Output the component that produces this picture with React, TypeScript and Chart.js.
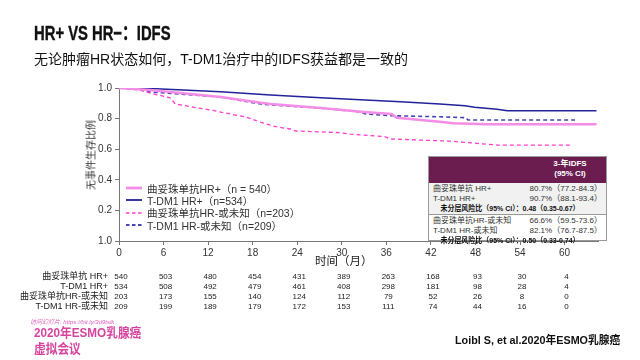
import React, { useEffect, useRef } from "react";
import { Chart, registerables } from "chart.js";

Chart.register(...registerables);

// ---- data ----
const xTicks = [0, 6, 12, 18, 24, 30, 36, 42, 48, 54, 60];
const yTicks = [0, 0.2, 0.4, 0.6, 0.8, 1.0];
const yTickLabels = ["1.0", "0.2", "0.4", "0.6", "0.8", "1.0"];

const seriesNames = [
  "曲妥珠单抗HR+（n = 540）",
  "T-DM1 HR+（n=534）",
  "曲妥珠单抗HR-或未知（n=203）",
  "T-DM1 HR-或未知（n=209）",
];

const tzHrPosMonths = [0, 4.2, 8.3, 13.7, 19.1, 20.4, 27.2, 32.6, 36.7, 37.4, 43.2, 45.0, 49.6, 64.3];
const tzHrPosSurv = [1.0, 0.987, 0.967, 0.941, 0.904, 0.895, 0.869, 0.845, 0.83, 0.806, 0.78, 0.769, 0.763, 0.763];

const tdm1HrPosMonths = [0, 5, 13.7, 20.4, 27.8, 37.9, 43.2, 46.6, 47.9, 50.9, 52.3, 64.3];
const tdm1HrPosSurv = [1.0, 0.995, 0.976, 0.954, 0.935, 0.91, 0.895, 0.884, 0.874, 0.861, 0.852, 0.852];

const tzHrNegMonths = [0, 2.8, 4.2, 6.9, 7.6, 12.3, 17.1, 19.1, 21.1, 23.1, 23.8, 29.8, 31.1, 35.8, 36.5, 44.8, 50.9, 60.9];
const tzHrNegSurv = [1.0, 0.987, 0.967, 0.935, 0.895, 0.856, 0.81, 0.776, 0.747, 0.732, 0.719, 0.708, 0.699, 0.682, 0.667, 0.652, 0.627, 0.627];

const tdm1HrNegMonths = [0, 2.5, 4.2, 13.7, 19.1, 28.5, 32.5, 33.2, 36.6, 43.2, 46.7, 47.0, 61.4];
const tdm1HrNegSurv = [1.0, 0.99, 0.974, 0.941, 0.895, 0.863, 0.843, 0.83, 0.819, 0.812, 0.806, 0.791, 0.791];

const riskLabels = ["曲妥珠单抗 HR+", "T-DM1 HR+", "曲妥珠单抗HR-或未知", "T-DM1 HR-或未知"];
const tzHrPosRisk = [540, 503, 480, 454, 431, 389, 263, 168, 93, 30, 4];
const tdm1HrPosRisk = [534, 508, 492, 479, 461, 408, 298, 181, 98, 28, 4];
const tzHrNegRisk = [203, 173, 155, 140, 124, 112, 79, 52, 26, 8, 0];
const tdm1HrNegRisk = [209, 199, 189, 179, 172, 153, 111, 74, 44, 16, 0];

const tableHeader = ["3-年IDFS", "(95% CI)"];
const tableGroup1 = [
  ["曲妥珠单抗 HR+", "80.7%（77.2-84.3）"],
  ["T-DM1 HR+", "90.7%（88.1-93.4）"],
];
const tableHr1 = "未分层风险比（95% CI）：0.48（0.35-0.67）";
const tableGroup2 = [
  ["曲妥珠单抗HR-或未知", "66.6%（59.5-73.6）"],
  ["T-DM1 HR-或未知", "82.1%（76.7-87.5）"],
];
const tableHr2 = "未分层风险比（95% CI）：0.50（0.33-0.74）";

const colors = ["#f48de6", "#22229a", "#ff3ccf", "#4545b5"];
const dashes: number[][] = [[], [], [4, 3], [4, 3]];
const widths = [2.5, 1.5, 1.3, 1.6];

const FONT = '"Liberation Sans", "Noto Sans CJK SC", sans-serif';

const toPts = (xs: number[], ys: number[]) => xs.map((x, i) => ({ x, y: ys[i] }));

export default function App() {
  const ref = useRef<HTMLCanvasElement | null>(null);

  useEffect(() => {
    if (!ref.current) return;
    const allX = [tzHrPosMonths, tdm1HrPosMonths, tzHrNegMonths, tdm1HrNegMonths];
    const allY = [tzHrPosSurv, tdm1HrPosSurv, tzHrNegSurv, tdm1HrNegSurv];
    const risks = [tzHrPosRisk, tdm1HrPosRisk, tzHrNegRisk, tdm1HrNegRisk];

    const extras = {
      id: "extras",
      afterDraw(chart: any) {
        const ctx = chart.ctx;
        const xs = chart.scales.x;
        ctx.save();
        ctx.fillStyle = "#222";
        ctx.font = `11.5px ${FONT}`;
        ctx.textAlign = "center";
        ctx.textBaseline = "middle";
        ctx.fillText("时间（月）", xs.getPixelForValue(30) + 2, 262);
        riskLabels.forEach((lab, r) => {
          const y = 277 + r * 10;
          ctx.font = `9px ${FONT}`;
          ctx.textAlign = "right";
          ctx.fillStyle = "#222";
          ctx.fillText(lab, 108, y);
          ctx.font = `8px ${FONT}`;
          ctx.textAlign = "center";
          risks[r].forEach((v, i) => {
            ctx.fillText(String(v), xs.getPixelForValue(xTicks[i]) + 2, y);
          });
        });
        ctx.restore();
      },
    };

    const chart = new Chart(ref.current, {
      type: "line",
      data: {
        datasets: seriesNames.map((name, i) => ({
          label: name,
          data: toPts(allX[i], allY[i]),
          borderColor: colors[i],
          borderWidth: widths[i],
          borderDash: dashes[i],
          pointRadius: 0,
          fill: false,
          tension: 0,
        })),
      },
      options: {
        responsive: false,
        animation: false,
        events: [],
        layout: { padding: { top: 88, right: 42, left: 0, bottom: 0 } },
        plugins: { legend: { display: false }, tooltip: { enabled: false } },
        scales: {
          x: {
            type: "linear",
            min: 0,
            max: 64.5,
            afterFit: (s: any) => {
              s.height = 119;
            },
            afterBuildTicks: (s: any) => {
              s.ticks = xTicks.map((v) => ({ value: v }));
            },
            border: { color: "#777", width: 1 },
            grid: { drawOnChartArea: false, tickLength: 4, color: "#777" },
            ticks: { color: "#333", font: { size: 10, family: FONT }, padding: 2, maxRotation: 0 },
          },
          y: {
            min: 0,
            max: 1,
            afterFit: (s: any) => {
              s.width = 119;
            },
            afterBuildTicks: (s: any) => {
              s.ticks = yTicks.map((v) => ({ value: v }));
            },
            border: { color: "#777", width: 1 },
            grid: { drawOnChartArea: false, tickLength: 4, color: "#777" },
            ticks: {
              color: "#333",
              font: { size: 10, family: FONT },
              padding: 3,
              callback: (v: any) => {
                const idx = yTicks.findIndex((t) => Math.abs(t - Number(v)) < 1e-6);
                return idx >= 0 ? yTickLabels[idx] : "";
              },
            },
          },
        },
      },
      plugins: [extras],
    } as any);
    return () => chart.destroy();
  }, []);

  const abs = (s: React.CSSProperties): React.CSSProperties => ({ position: "absolute", whiteSpace: "nowrap", ...s });

  const hrStyle: React.CSSProperties = {
    height: 10,
    lineHeight: "10px",
    fontWeight: "bold",
    paddingLeft: 8,
    color: "#111",
    fontSize: 7.5,
    transform: "scaleX(0.93)",
    transformOrigin: "left",
  };

  return (
    <div style={{ position: "absolute", left: 0, top: 0, width: 640, height: 360, background: "#fff", overflow: "hidden", fontFamily: FONT }}>
      <canvas ref={ref} width={640} height={360} style={{ position: "absolute", left: 0, top: 0, display: "block" }} />
      <div style={abs({ left: 34, top: 17, fontSize: 20, fontWeight: "bold", color: "#111", transform: "scaleX(0.74)", transformOrigin: "left", WebkitTextStroke: "0.4px #111" })}>
        HR+ VS HR−：IDFS
      </div>
      <div style={abs({ left: 34, top: 48, fontSize: 14, color: "#111" })}>
        无论肿瘤HR状态如何，T-DM1治疗中的IDFS获益都是一致的
      </div>
      <div style={abs({ left: 90, top: 155, fontSize: 10, color: "#333", transform: "translate(-50%,-50%) rotate(-90deg)" })}>
        无事件生存比例
      </div>
      {seriesNames.map((n, i) => (
        <div key={n} style={abs({ left: 126, top: 182 + i * 12.4, height: 12, display: "flex", alignItems: "center", fontSize: 10.5, color: "#333" })}>
          <svg width={18} height={6} style={{ marginRight: 3 }}>
            <line x1={0} y1={3} x2={16} y2={3} stroke={colors[i]} strokeWidth={widths[i] + 0.3} strokeDasharray={dashes[i].length ? "3.5 2.5" : undefined} />
          </svg>
          {n}
        </div>
      ))}
      <div style={abs({ left: 428, top: 156, width: 179, height: 85, border: "1px solid #999", background: "#fff", boxSizing: "border-box", fontSize: 8, color: "#333" })}>
        <div style={{ background: "#6b1d4f", height: 26, color: "#fff", fontWeight: "bold", position: "relative" }}>
          <div style={abs({ left: 110, width: 62, top: 2, textAlign: "center", lineHeight: "10px" })}>
            {tableHeader[0]}
            <br />
            {tableHeader[1]}
          </div>
        </div>
        <div style={{ background: "#f1f1f1", padding: "1px 4px 0 4px", borderBottom: "1px solid #999" }}>
          {tableGroup1.map((r) => (
            <div key={r[0]} style={{ display: "flex", justifyContent: "space-between", height: 10, lineHeight: "10px" }}>
              <span>{r[0]}</span>
              <span>{r[1]}</span>
            </div>
          ))}
          <div style={hrStyle}>{tableHr1}</div>
        </div>
        <div style={{ padding: "1px 4px 0 4px" }}>
          {tableGroup2.map((r) => (
            <div key={r[0]} style={{ display: "flex", justifyContent: "space-between", height: 10, lineHeight: "10px" }}>
              <span>{r[0]}</span>
              <span>{r[1]}</span>
            </div>
          ))}
          <div style={hrStyle}>{tableHr2}</div>
        </div>
      </div>
      <div style={abs({ left: 30, top: 317, fontSize: 6, color: "#e060c0", fontStyle: "italic" })}>访问幻灯片: https://bit.ly/3d9tslk</div>
      <div style={abs({ left: 34, top: 325, fontSize: 13, fontWeight: "bold", color: "#d6449e", lineHeight: "16px", transform: "scaleX(0.9)", transformOrigin: "left" })}>
        2020年ESMO乳腺癌
        <br />
        虚拟会议
      </div>
      <div style={abs({ left: 455, top: 331, fontSize: 11, fontWeight: "bold", color: "#111", transform: "scaleX(0.98)", transformOrigin: "left" })}>
        Loibl S, et al.2020年ESMO乳腺癌
      </div>
    </div>
  );
}
